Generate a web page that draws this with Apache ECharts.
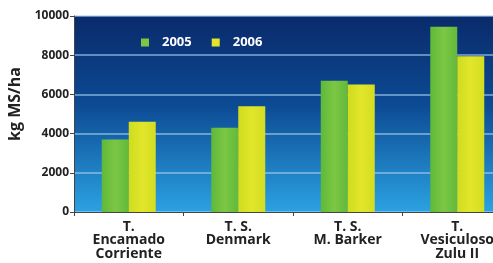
<!DOCTYPE html>
<html>
<head>
<meta charset="utf-8">
<script src="https://cdn.jsdelivr.net/npm/echarts@6/dist/echarts.min.js"></script>
<style>
  html, body { margin: 0; padding: 0; background: #fff; }
  #chart { width: 493px; height: 263px; }
</style>
</head>
<body>
<div id="chart"></div>
<script>
// datos
const categories = ["T.\nEncamado\nCorriente", "T. S.\nDenmark", "T. S.\nM. Barker", "T.\nVesiculoso\nZulu II"];
const series2005 = [3700, 4300, 6700, 9450];
const series2006 = [4600, 5400, 6500, 7950];
const yTicks = [0, 2000, 4000, 6000, 8000, 10000];
const yTitle = "kg MS/ha";

const chart = echarts.init(document.getElementById("chart"), null, { renderer: "canvas" });

const greenFill = new echarts.graphic.LinearGradient(0, 0, 1, 0, [
  { offset: 0, color: "#5fb83a" },
  { offset: 0.5, color: "#7cc744" },
  { offset: 1, color: "#62b93b" }
]);
const yellowFill = new echarts.graphic.LinearGradient(0, 0, 1, 0, [
  { offset: 0, color: "#cfdc1f" },
  { offset: 0.5, color: "#e2e62a" },
  { offset: 1, color: "#d3dd22" }
]);

chart.setOption({
  animation: false,
  grid: {
    left: 74, top: 16, bottom: 51, width: 438,
    outerBoundsMode: "none",
    containLabel: false,
    show: true,
    borderWidth: 0,
    backgroundColor: new echarts.graphic.LinearGradient(0, 0, 0, 1, [
      { offset: 0, color: "#0a2a6b" },
      { offset: 0.45, color: "#0c4a93" },
      { offset: 1, color: "#2ba2e2" }
    ])
  },
  // titulo del eje y, girado
  graphic: [{
    type: "text",
    x: 15, y: 104,
    rotation: Math.PI / 2,
    style: {
      text: yTitle,
      fill: "#222",
      font: "bold 16px 'Open Sans'",
      align: "center",
      verticalAlign: "middle"
    }
  }],
  legend: {
    data: [
      { name: "2005", itemStyle: { color: "#7cc744" } },
      { name: "2006", itemStyle: { color: "#e2e62a" } }
    ],
    left: 136, top: 31,
    itemWidth: 8, itemHeight: 8, itemGap: 20,
    icon: "rect",
    textStyle: { color: "#fff", fontFamily: "Open Sans", fontWeight: "bold", fontSize: 13, padding: [0, 0, 0, 8] }
  },
  xAxis: {
    type: "category",
    data: categories,
    axisLine: { show: true, lineStyle: { color: "#444", width: 1 } },
    axisTick: { show: true, length: 4, lineStyle: { color: "#444" } },
    axisLabel: {
      color: "#222", fontFamily: "Open Sans", fontWeight: "bold", fontSize: 14,
      lineHeight: 13.5, margin: 8, interval: 0
    }
  },
  yAxis: {
    type: "value",
    min: yTicks[0], max: yTicks[yTicks.length - 1], interval: 2000,
    axisLine: { show: true, lineStyle: { color: "#444" } },
    axisTick: { show: true, length: 4, lineStyle: { color: "#444" } },
    axisLabel: {
      color: "#222", fontFamily: "Open Sans", fontWeight: "bold", fontSize: 12, margin: 5,
      formatter: v => String(v)
    },
    splitLine: { show: true, lineStyle: { color: "rgba(170,210,240,0.75)", width: 1.5 } }
  },
  series: [
    { name: "2005", type: "bar", data: series2005, barWidth: 27, barGap: "0%", itemStyle: { color: greenFill } },
    { name: "2006", type: "bar", data: series2006, barWidth: 27, barGap: "0%", itemStyle: { color: yellowFill } }
  ]
});
</script>
</body>
</html>
